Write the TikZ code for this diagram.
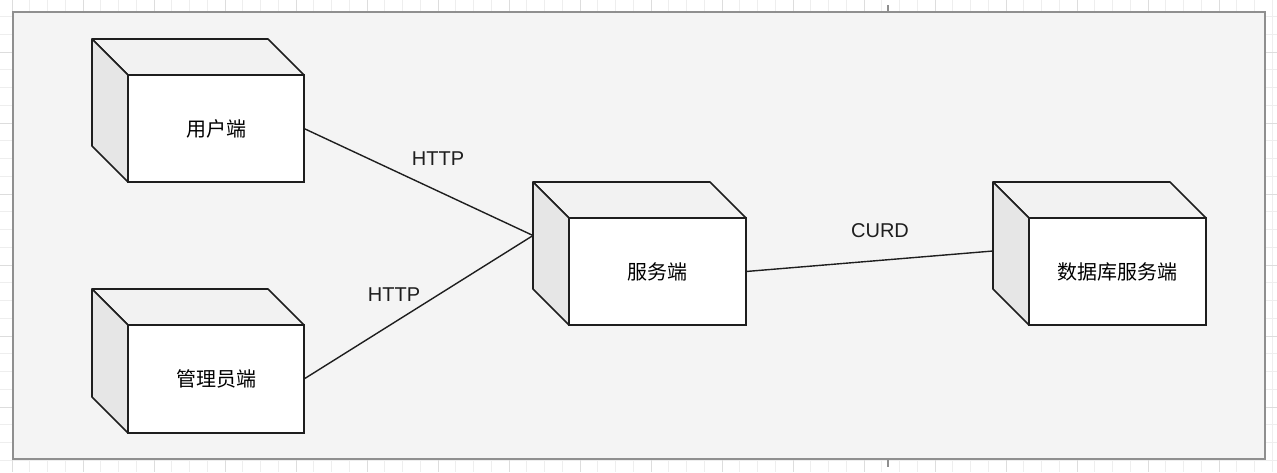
\documentclass[tikz,border=0pt]{standalone}
\usepackage{fontspec}
\setmainfont{Liberation Sans}
\newfontfamily\cjk{Noto Sans CJK SC}
\usetikzlibrary{calc}

\definecolor{canvas}{HTML}{F4F4F4}
\definecolor{topface}{HTML}{F2F2F2}
\definecolor{sideface}{HTML}{E6E6E6}
\definecolor{gridminor}{HTML}{EEEEEE}
\definecolor{gridmajor}{HTML}{DDDDDD}
\definecolor{frameline}{HTML}{8F8F8F}
\definecolor{ink}{HTML}{1E1E1E}

\tikzset{
	box/.style={draw=ink, fill=white, line width=1.6pt, minimum width=176pt, minimum height=107pt,
		inner sep=0pt, outer sep=0pt, font=\cjk\fontsize{20}{24}\selectfont},
	face/.style={draw=ink, line width=1.6pt, line join=round},
	wire/.style={draw=ink, line width=1.4pt},
	lbl/.style={inner sep=0pt, text=ink, font=\fontsize{20}{24}\selectfont},
}

\begin{document}
\begin{tikzpicture}[x=1pt,y=-1pt]
	\useasboundingbox (0,0) rectangle (1277,472);
	\fill[white] (0,0) rectangle (1277,472);
	\begin{scope}
		\clip (0,0) rectangle (1277,472);
		\foreach \x in {-1,0,...,72}{
			\draw[gridminor, line width=1pt] (12+17.75*\x, 0) -- (12+17.75*\x, 472);
		}
		\foreach \y in {0,1,...,27}{
			\draw[gridminor, line width=1pt] (0, -1.25+17.75*\y) -- (1277, -1.25+17.75*\y);
		}
		\foreach \x in {0,1,...,18}{
			\draw[gridmajor, line width=1pt] (12+71*\x, 0) -- (12+71*\x, 472);
		}
		\foreach \y in {0,1,...,7}{
			\draw[gridmajor, line width=1pt] (0, -19+71*\y) -- (1277, -19+71*\y);
		}
	\end{scope}
	\draw[frameline, line width=1.5pt] (888,5) -- (888,12);
	\draw[frameline, line width=1.5pt] (888,459) -- (888,467);
	\draw[frameline, fill=canvas, line width=2pt] (13,12) rectangle (1265,459);

	\node[box] (user) at (216,128.5) {用户端};
	\node[box, minimum height=108pt] (admin) at (216,379) {管理员端};
	\node[box, minimum width=177pt] (srv) at (657.5,271.5) {服务端};
	\node[box, minimum width=177pt] (db) at (1117.5,271.5) {数据库服务端};

	\foreach \n in {user,admin,srv,db}{
		\filldraw[face, fill=topface] (\n.north west) -- ++(-36,-36) -- ($(\n.north east)+(-36,-36)$) -- (\n.north east) -- cycle;
		\filldraw[face, fill=sideface] (\n.north west) -- ++(-36,-36) -- ($(\n.south west)+(-36,-36)$) -- (\n.south west) -- cycle;
	}

	\coordinate (srv-in) at ($(srv.west)+(-36,-36)$);
	\coordinate (db-in) at ($(db.west)+(-36,-20.5)$);
	\draw[wire] (user.east) -- (srv-in);
	\draw[wire] (admin.east) -- (srv-in);
	\draw[wire] (srv.east) -- (db-in);

	\node[lbl] (http-user) at (438,159) {HTTP};
	\node[lbl] (http-admin) at (394,295) {HTTP};
	\node[lbl] (curd) at (880,231) {CURD};
\end{tikzpicture}
\end{document}
